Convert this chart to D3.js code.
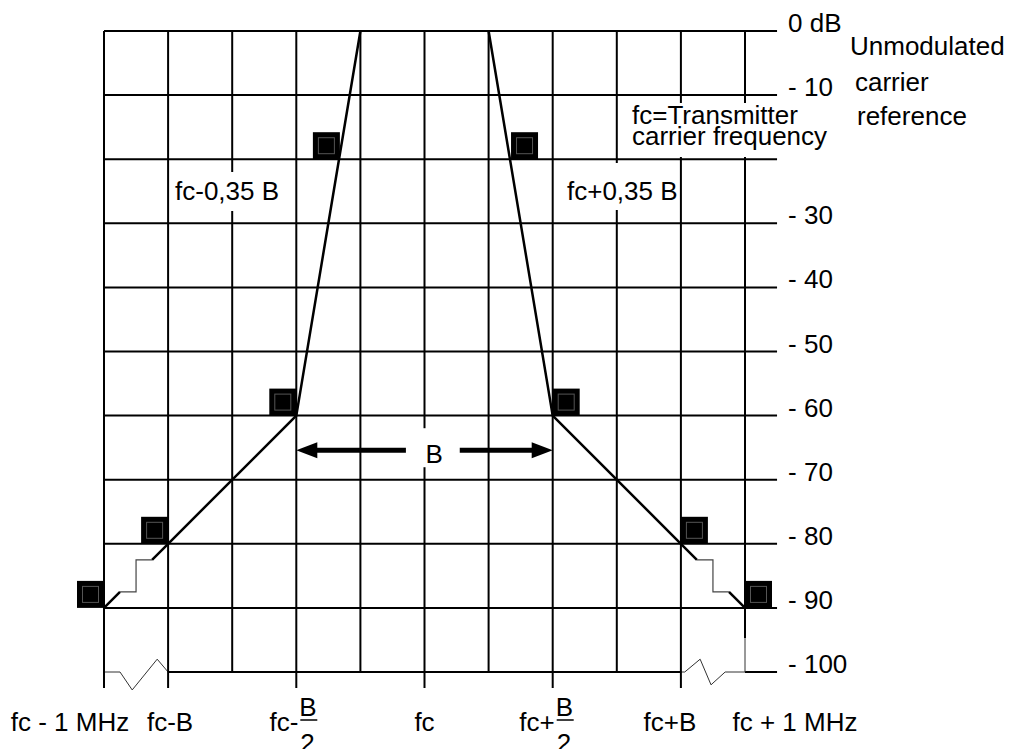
<!DOCTYPE html>
<html>
<head>
<meta charset="utf-8">
<script src="https://cdnjs.cloudflare.com/ajax/libs/d3/7.8.5/d3.min.js"></script>
<style>
  body { margin: 0; background: #fff; }
  svg text { font-family: "Liberation Sans", Arial, Helvetica, sans-serif; font-size: 26px; fill: #000; }
</style>
</head>
<body>
<div id="chart"></div>
<script>
// grid: frequency steps (fc-1MHz .. fc+1MHz) and attenuation levels in dB
var gridX = [0, 1, 2, 3, 4, 5, 6, 7, 8, 9, 10];
var gridDb = [0, -10, -20, -30, -40, -50, -60, -70, -80, -90, -100];
var dbLabels = ["0 dB", "- 10", "", "- 30", "- 40", "- 50", "- 60", "- 70", "- 80", "- 90", "- 100"];

// verticals that carry a frequency label (they poke below the grid)
var tickX = [0, 1, 3, 5, 7, 9];
var freqAt = [0, 1, 3, 5, 7, 9, 10];
var freqLabels = ["fc - 1 MHz", "fc-B", "fc-", "fc", "fc+", "fc+B", "fc + 1 MHz"];
var freqFrac = [null, null, ["B", "2"], null, ["B", "2"], null, null];

// spectrum mask (thick) and the small stepped parts (thin)
var maskLeft = [[0, -90], [0.25, -87.5]];
var maskLeft2 = [[0.75, -82.5], [1, -80], [3, -60], [4, 0]];
var stepLeft = [[0.25, -87.5], [0.5, -87.5], [0.5, -82.5], [0.75, -82.5]];
var maskRight = [[6, 0], [7, -60], [9, -80], [9.25, -82.5]];
var maskRight2 = [[9.75, -87.5], [10, -90]];
var stepRight = [[9.25, -82.5], [9.5, -82.5], [9.5, -87.5], [9.75, -87.5]];

// axis break zig-zags on the -100 line
var breakLeft = [[0, -100], [0.25, -100], [0.44, -102.8], [0.83, -98], [1, -100]];
var breakRight = [[9, -100], [9.06, -100], [9.3, -98], [9.47, -102], [9.69, -100], [10, -100]];

// limit points (black squares)
var pointsLeft = [[0, -90], [1, -80], [3, -60], [3.68, -20]];
var pointsRight = [[6.35, -20], [7, -60], [9, -80], [10, -90]];

// bandwidth arrow
var arrowDb = -65.4;
var arrowLeft = [3, 4.71];
var arrowRight = [5.55, 7];

var width = 1016, height = 749;

var x = d3.scaleLinear().domain([0, 10]).range([104, 745]);
var y = d3.scaleLinear().domain([0, -100]).range([31, 672]);

var svg = d3.select("#chart").append("svg")
    .attr("width", width)
    .attr("height", height);

var line = d3.line()
    .x(function (d) { return x(d[0]); })
    .y(function (d) { return y(d[1]); });

// horizontal grid lines
svg.append("g").selectAll("line")
    .data(gridDb.filter(function (d) { return d != -100; }))
    .enter().append("line")
    .attr("x1", x(0)).attr("x2", x(10.5))
    .attr("y1", function (d) { return y(d); })
    .attr("y2", function (d) { return y(d); })
    .attr("stroke", "#000").attr("stroke-width", 2);

// -100 line: solid between the breaks
svg.append("line")
    .attr("x1", x(1)).attr("x2", x(9))
    .attr("y1", y(-100)).attr("y2", y(-100))
    .attr("stroke", "#000").attr("stroke-width", 2);
svg.append("line")
    .attr("x1", x(10)).attr("x2", x(10.5))
    .attr("y1", y(-100)).attr("y2", y(-100))
    .attr("stroke", "#000").attr("stroke-width", 2);

[breakLeft, breakRight].forEach(function (b) {
  svg.append("path")
      .attr("d", line(b))
      .attr("fill", "none")
      .attr("stroke", "#333").attr("stroke-width", 1);
});

// vertical grid lines
svg.append("g").selectAll("line")
    .data(gridX.filter(function (d) { return d != 10; }))
    .enter().append("line")
    .attr("x1", function (d) { return x(d); })
    .attr("x2", function (d) { return x(d); })
    .attr("y1", y(0))
    .attr("y2", function (d) { return tickX.indexOf(d) >= 0 ? y(-102.5) : y(-100); })
    .attr("stroke", "#000").attr("stroke-width", 2);

// last vertical is broken near the bottom
svg.append("line")
    .attr("x1", x(10)).attr("x2", x(10))
    .attr("y1", y(0)).attr("y2", y(-94.7))
    .attr("stroke", "#000").attr("stroke-width", 2);
svg.append("line")
    .attr("x1", x(10)).attr("x2", x(10))
    .attr("y1", y(-94.7)).attr("y2", y(-100))
    .attr("stroke", "#333").attr("stroke-width", 1);

// white boxes behind annotations (they hide the grid)
function box(x0, y0, x1, y1) {
  svg.append("rect")
      .attr("x", x0).attr("y", y0)
      .attr("width", x1 - x0).attr("height", y1 - y0)
      .attr("fill", "#fff");
}
box(170, 172, 294, 211);
box(559, 163, 679, 210);
box(628, 103, 834, 157);
box(x(5) - 15, y(arrowDb) - 22, x(5) + 33, y(arrowDb) + 17);

// mask
[maskLeft, maskLeft2, maskRight, maskRight2].forEach(function (m) {
  svg.append("path")
      .attr("d", line(m))
      .attr("fill", "none")
      .attr("stroke", "#000").attr("stroke-width", 2.5);
});
[stepLeft, stepRight].forEach(function (m) {
  svg.append("path")
      .attr("d", line(m))
      .attr("fill", "none")
      .attr("stroke", "#444").attr("stroke-width", 1.2);
});

// squares: left side hang from their bottom-right corner, right side from bottom-left
var sq = 27;
function squares(data, side) {
  var g = svg.append("g").selectAll("g")
      .data(data)
      .enter().append("g")
      .attr("transform", function (d) {
        var px = side == "left" ? x(d[0]) - sq : x(d[0]);
        return "translate(" + px + "," + (y(d[1]) - sq) + ")";
      });
  g.append("rect")
      .attr("width", sq).attr("height", sq)
      .attr("fill", "#000");
  g.append("rect")
      .attr("x", 5.5).attr("y", 5.5)
      .attr("width", sq - 11).attr("height", sq - 11)
      .attr("fill", "none")
      .attr("stroke", "#555").attr("stroke-width", 1);
}
squares(pointsLeft, "left");
squares(pointsRight, "right");

// B arrows
var ay = y(arrowDb);
svg.append("line")
    .attr("x1", x(arrowLeft[0]) + 16).attr("x2", x(arrowLeft[1]))
    .attr("y1", ay).attr("y2", ay)
    .attr("stroke", "#000").attr("stroke-width", 5);
svg.append("path")
    .attr("d", "M" + x(arrowLeft[0]) + "," + ay + "L" + (x(arrowLeft[0]) + 21) + "," + (ay - 8) +
        "L" + (x(arrowLeft[0]) + 21) + "," + (ay + 8) + "Z")
    .attr("fill", "#000");
svg.append("line")
    .attr("x1", x(arrowRight[0])).attr("x2", x(arrowRight[1]) - 16)
    .attr("y1", ay).attr("y2", ay)
    .attr("stroke", "#000").attr("stroke-width", 5);
svg.append("path")
    .attr("d", "M" + x(arrowRight[1]) + "," + ay + "L" + (x(arrowRight[1]) - 21) + "," + (ay - 8) +
        "L" + (x(arrowRight[1]) - 21) + "," + (ay + 8) + "Z")
    .attr("fill", "#000");
svg.append("text")
    .attr("x", x(5) + 1).attr("y", ay + 13)
    .text("B");

// dB labels on the right
svg.append("g").selectAll("text")
    .data(gridDb)
    .enter().append("text")
    .attr("x", x(10.5) + 11)
    .attr("y", function (d) { return y(d) + 1; })
    .text(function (d, i) { return dbLabels[i]; });

// frequency labels
var labelDx = [-34, 2, 2, 0, 2, -11, 50];
var labelAnchor = ["middle", "middle", "end", "middle", "end", "middle", "middle"];
freqAt.forEach(function (f, i) {
  var lx = x(f) + labelDx[i];
  svg.append("text")
      .attr("x", lx).attr("y", 731)
      .attr("text-anchor", labelAnchor[i])
      .text(freqLabels[i]);
  if (freqFrac[i]) {
    svg.append("text").attr("x", lx + 1).attr("y", 716).text(freqFrac[i][0]);
    svg.append("line")
        .attr("x1", lx + 2).attr("x2", lx + 19)
        .attr("y1", 720).attr("y2", 720)
        .attr("stroke", "#000").attr("stroke-width", 1.5);
    svg.append("text").attr("x", lx + 2).attr("y", 752).text(freqFrac[i][1]);
  }
});

// annotations
svg.append("text").attr("x", 175).attr("y", 200).text("fc-0,35 B");
svg.append("text").attr("x", 567).attr("y", 200).text("fc+0,35 B");
svg.append("text").attr("x", 632).attr("y", 124).text("fc=Transmitter");
svg.append("text").attr("x", 632).attr("y", 145).text("carrier frequency");
svg.append("text").attr("x", 850).attr("y", 55).text("Unmodulated");
svg.append("text").attr("x", 855).attr("y", 91).text("carrier");
svg.append("text").attr("x", 857).attr("y", 125).text("reference");
</script>
</body>
</html>
